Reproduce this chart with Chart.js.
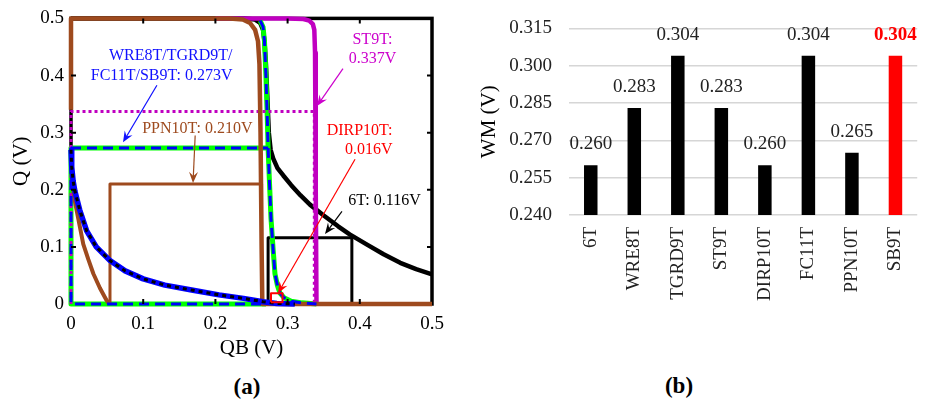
<!DOCTYPE html>
<html><head><meta charset="utf-8">
<script src="https://cdn.jsdelivr.net/npm/chart.js@4"></script>
<style>
html,body{margin:0;padding:0;background:#fff}
body{width:931px;height:399px;overflow:hidden;position:relative;font-family:"Liberation Serif","Times New Roman",serif}
#ca{position:absolute;left:0;top:0}
#cb{position:absolute;left:470px;top:0}
.pl{position:absolute;font-weight:bold;font-size:23px;line-height:23px;color:#000;transform:translate(-50%,-50%)}
</style></head>
<body>
<canvas id="ca" width="470" height="365"></canvas>
<canvas id="cb" width="461" height="365"></canvas>
<div class="pl" style="left:247px;top:386px">(a)</div>
<div class="pl" style="left:679px;top:385px">(b)</div>
<script>
// ---------- Panel (a): curves as [QB, Q] pairs ----------
const sixT_write = [[0,0.5],[0.24,0.5],[0.255,0.498],[0.262,0.492],[0.266,0.48],[0.268,0.46],[0.27,0.42],[0.272,0.36],[0.274,0.3],[0.2765,0.27],[0.28,0.255],[0.286,0.238],[0.294,0.225],[0.305,0.208],[0.318,0.19],[0.331,0.174],[0.35,0.155],[0.37,0.136],[0.386,0.122],[0.41,0.104],[0.433,0.087],[0.456,0.072],[0.478,0.061],[0.5,0.052]];
const sixT_hold = [[0,0.27],[0.001,0.24],[0.003,0.215],[0.0055,0.197],[0.012,0.165],[0.0217,0.128],[0.035,0.1],[0.054,0.076],[0.075,0.058],[0.1,0.044],[0.13,0.033],[0.169,0.024],[0.205,0.016],[0.239,0.0098],[0.266,0.004],[0.285,0.001],[0.31,0]];
const wre_write = [[0.262,0.496],[0.266,0.485],[0.268,0.46],[0.27,0.4],[0.272,0.32],[0.273,0.273],[0.275,0.21],[0.277,0.15],[0.28,0.095],[0.2825,0.053],[0.286,0.032],[0.2895,0.019],[0.295,0.011],[0.305,0.005],[0.32,0.002],[0.34,0]];
const wre_edge = [[0,0.273],[0,0],[0.27,0]];
const ppn_write = [[0,0.34],[0,0.5],[0.22,0.5],[0.238,0.498],[0.248,0.492],[0.255,0.48],[0.259,0.46],[0.261,0.42],[0.2625,0.3],[0.264,0.1],[0.265,0],[0.5,0]];
const ppn_hold = [[0.001,0.23],[0.003,0.2],[0.0055,0.179],[0.01,0.15],[0.017,0.105],[0.024,0.078],[0.031,0.053],[0.04,0.028],[0.049,0.007],[0.053,0]];
const st9_write = [[0.2,0.5],[0.3,0.5],[0.322,0.499],[0.33,0.496],[0.335,0.49],[0.337,0.48],[0.338,0.44],[0.339,0.2],[0.34,0]];
// write-margin boxes
const box6T = [[0.273,0],[0.273,0.116],[0.389,0.116],[0.389,0]];
const boxWRE = [[0,0.273],[0.273,0.273]];
const boxPPN = [[0.054,0],[0.054,0.21],[0.264,0.21],[0.264,0]];
const boxST9 = [[0,0],[0,0.337],[0.337,0.337],[0.337,0]];
const boxDIRP = [[0.277,0.003],[0.277,0.019],[0.293,0.019],[0.293,0.003],[0.277,0.003]];
// annotations (data coordinates)
const notesA = [
  {t:'WRE8T/TGRD9T/', x:0.2237, y:0.4345, a:'right', c:'#1010ff'},
  {t:'FC11T/SB9T: 0.273V', x:0.2237, y:0.400, a:'right', c:'#1010ff'},
  {t:'PPN10T: 0.210V', x:0.175, y:0.307, a:'center', c:'#9e4a1e'},
  {t:'ST9T:', x:0.4176, y:0.462, a:'center', c:'#cc00cc'},
  {t:'0.337V', x:0.4176, y:0.429, a:'center', c:'#cc00cc'},
  {t:'DIRP10T:', x:0.4453, y:0.3034, a:'right', c:'#ff0000'},
  {t:'0.016V', x:0.4453, y:0.2707, a:'right', c:'#ff0000'},
  {t:'6T: 0.116V', x:0.4342, y:0.181, a:'center', c:'#000000'}
];
const arrowsA = [
  {f:[0.119,0.383], to:[0.072,0.283], c:'#1010ff'},
  {f:[0.172,0.295], to:[0.169,0.212], c:'#9e4a1e'},
  {f:[0.3767,0.412], to:[0.3407,0.3466], c:'#cc00cc'},
  {f:[0.3934,0.2534], to:[0.2867,0.019], c:'#ff0000'},
  {f:[0.3753,0.162], to:[0.3518,0.1224], c:'#000000'}
];
// ---------- Panel (b) ----------
const cells = ['6T','WRE8T','TGRD9T','ST9T','DIRP10T','FC11T','PPN10T','SB9T'];
const wm = [0.260,0.283,0.304,0.283,0.260,0.304,0.265,0.304];
const wmMin = 0.240, wmMax = 0.315, wmStep = 0.015;

Chart.defaults.font.family = "'Liberation Serif','Times New Roman',serif";
Chart.defaults.color = '#000';

const BROWN='#9e4a1e', MAG='#c000c0', GREEN='#00ff00', BLUE='#0000ff', RED='#ff0000';
function ds(arr,color,w,dash){
  return {data:arr.map(p=>({x:p[0],y:p[1]})), showLine:true, pointRadius:0, fill:false,
    borderColor:color, borderWidth:w, borderDash:dash||[], tension:0, clip:false,
    borderCapStyle:'butt', borderJoinStyle:'round'};
}
// listed top-most first
const datasetsA = [
  ds(boxDIRP,RED,2),
  ds(sixT_hold,'#000',3,[4,4]),
  ds(boxWRE,BLUE,3,[10,6]),
  ds(wre_write,BLUE,3,[10,6]),
  ds(wre_edge,BLUE,3,[10,6]),
  ds(sixT_hold,BLUE,5.5),
  ds(boxPPN,BROWN,3),
  ds(ppn_write,BROWN,4.5),
  ds(ppn_hold,BROWN,4),
  ds(boxST9,MAG,3,[3,3]),
  ds(boxWRE,GREEN,5),
  ds(wre_write,GREEN,5),
  ds(wre_edge,GREEN,5),
  ds(st9_write,MAG,4.5),
  ds(box6T,'#000',3),
  ds(sixT_write,'#000',4.5)
];

function arrow(ctx,x1,y1,x2,y2,c){
  ctx.save();
  ctx.strokeStyle=c; ctx.fillStyle=c; ctx.lineWidth=1.2;
  const ang=Math.atan2(y2-y1,x2-x1), L=11, H=4.5;
  const bx=x2-L*Math.cos(ang), by=y2-L*Math.sin(ang);
  ctx.beginPath(); ctx.moveTo(x1,y1); ctx.lineTo(x2-6*Math.cos(ang),y2-6*Math.sin(ang)); ctx.stroke();
  ctx.beginPath();
  ctx.moveTo(x2,y2);
  ctx.lineTo(bx+H*Math.sin(ang),by-H*Math.cos(ang));
  ctx.lineTo(x2-7*Math.cos(ang),y2-7*Math.sin(ang));
  ctx.lineTo(bx-H*Math.sin(ang),by+H*Math.cos(ang));
  ctx.closePath(); ctx.fill();
  ctx.restore();
}

const framePlugin = {
  id:'frameA',
  beforeDatasetsDraw(chart){
    const {ctx,chartArea:a}=chart;
    ctx.save(); ctx.strokeStyle='#000'; ctx.lineWidth=3.5;
    ctx.strokeRect(a.left,a.top,a.right-a.left,a.bottom-a.top); ctx.restore();
  },
  afterDatasetsDraw(chart){
    const {ctx,chartArea:a,scales:{x,y}}=chart;
    ctx.save(); ctx.strokeStyle='#000'; ctx.lineWidth=2;
    x.ticks.forEach(t=>{ if(t.value<=x.min+1e-9||t.value>=x.max-1e-9) return;
      const px=x.getPixelForValue(t.value);
      ctx.beginPath(); ctx.moveTo(px,a.top); ctx.lineTo(px,a.top+5); ctx.moveTo(px,a.bottom); ctx.lineTo(px,a.bottom-5); ctx.stroke(); });
    y.ticks.forEach(t=>{ if(t.value<=y.min+1e-9||t.value>=y.max-1e-9) return;
      const py=y.getPixelForValue(t.value);
      ctx.beginPath(); ctx.moveTo(a.left,py); ctx.lineTo(a.left+5,py); ctx.moveTo(a.right,py); ctx.lineTo(a.right-5,py); ctx.stroke(); });
    ctx.restore();
  },
  afterDraw(chart){
    const {ctx,scales:{x,y}}=chart;
    ctx.save();
    ctx.font="16px 'Liberation Serif','Times New Roman',serif";
    ctx.textBaseline='middle';
    notesA.forEach(n=>{ ctx.fillStyle=n.c; ctx.textAlign=n.a; ctx.fillText(n.t,x.getPixelForValue(n.x),y.getPixelForValue(n.y)); });
    arrowsA.forEach(r=>arrow(ctx,x.getPixelForValue(r.f[0]),y.getPixelForValue(r.f[1]),x.getPixelForValue(r.to[0]),y.getPixelForValue(r.to[1]),r.c));
    ctx.restore();
  }
};

new Chart(document.getElementById('ca'),{
  type:'scatter',
  data:{datasets:datasetsA},
  options:{
    responsive:false, animation:false, events:[],
    layout:{padding:{left:5,right:38,top:14,bottom:0}},
    plugins:{legend:{display:false},tooltip:{enabled:false}},
    scales:{
      x:{type:'linear',min:0,max:0.5,
        ticks:{stepSize:0.1,padding:9,font:{size:19},color:'#000',callback:v=>Math.abs(v)<1e-9?'0':v.toFixed(1)},
        grid:{display:false,drawTicks:false}, border:{display:false},
        title:{display:true,text:'QB (V)',font:{size:21},color:'#000'},
        afterFit:s=>{s.height=61;}},
      y:{type:'linear',min:0,max:0.5,
        ticks:{stepSize:0.1,padding:7,font:{size:19},color:'#000',callback:v=>Math.abs(v)<1e-9?'0':v.toFixed(1)},
        grid:{display:false,drawTicks:false}, border:{display:false},
        title:{display:true,text:'Q (V)',font:{size:21},color:'#000'},
        afterFit:s=>{s.width=66;}}
    }
  },
  plugins:[framePlugin]
});

const barLabels = {
  id:'barLabels',
  afterDatasetsDraw(chart){
    const {ctx}=chart; const meta=chart.getDatasetMeta(0);
    ctx.save(); ctx.textAlign='center'; ctx.textBaseline='alphabetic';
    meta.data.forEach((b,i)=>{
      const last = i===wm.length-1;
      ctx.font=(last?'bold ':'')+"19px 'Liberation Serif','Times New Roman',serif";
      ctx.fillStyle=last?RED:'#222';
      ctx.fillText(wm[i].toFixed(3),b.x,b.y-16);
    });
    ctx.restore();
  }
};

new Chart(document.getElementById('cb'),{
  type:'bar',
  data:{labels:cells,datasets:[{data:wm,backgroundColor:wm.map((v,i)=>i===wm.length-1?RED:'#000'),
    borderWidth:0,barPercentage:0.31,categoryPercentage:1}]},
  options:{
    responsive:false, animation:false, events:[],
    layout:{padding:{left:3,right:12,top:27,bottom:0}},
    plugins:{legend:{display:false},tooltip:{enabled:false}},
    scales:{
      x:{grid:{display:false,drawTicks:false},border:{display:false},
        ticks:{minRotation:90,maxRotation:90,padding:12,font:{size:19},color:'#222',autoSkip:false},
        afterFit:s=>{s.height=150;}},
      y:{min:wmMin,max:wmMax,
        ticks:{stepSize:wmStep,padding:17,font:{size:19},color:'#222',callback:v=>v.toFixed(3)},
        grid:{color:'#d6d6d6',lineWidth:1.5,drawTicks:false},border:{display:false},
        title:{display:true,text:'WM (V)',font:{size:21},color:'#000'},
        afterFit:s=>{s.width=96;}}
    }
  },
  plugins:[barLabels]
});
</script>
</body></html>
